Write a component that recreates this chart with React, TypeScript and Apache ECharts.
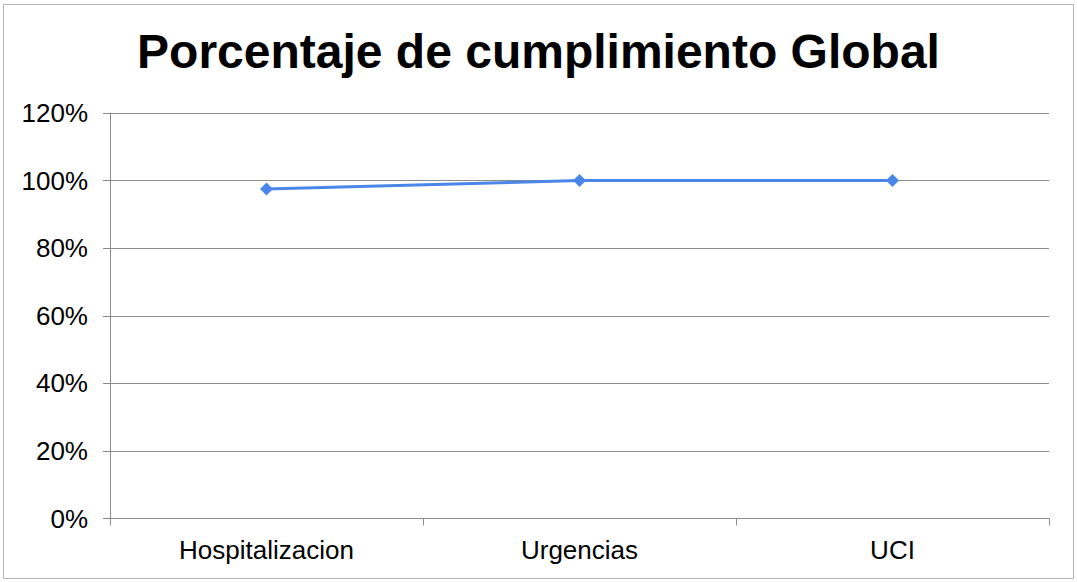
import React, { useEffect, useRef } from "react";
import * as echarts from "echarts";

const categories = ["Hospitalizacion", "Urgencias", "UCI"];
const values = [0.975, 1.0, 1.0];
const titleText = "Porcentaje de cumplimiento Global";

export default function App() {
  const ref = useRef<HTMLDivElement>(null);
  useEffect(() => {
    if (!ref.current) return;
    const chart = echarts.init(ref.current, null, { renderer: "svg" });
    chart.setOption({
      animation: false,
      backgroundColor: "#ffffff",
      title: {
        text: titleText,
        left: "center",
        top: 22,
        textStyle: {
          fontFamily: "Liberation Sans, Arial, sans-serif",
          fontWeight: "bold",
          fontSize: 48,
          color: "#000000",
        },
      },
      graphic: [
        {
          type: "rect",
          shape: { x: 3.5, y: 4.5, width: 1070, height: 574 },
          style: { fill: "none", stroke: "#b4b4b4", lineWidth: 1 },
          silent: true,
        },
      ],
      grid: { left: 110, right: 28, top: 113, bottom: 63.5, containLabel: false },
      xAxis: {
        type: "category",
        data: categories,
        boundaryGap: true,
        axisLine: { lineStyle: { color: "#8c8c8c", width: 1 } },
        axisTick: { show: true, length: 7, lineStyle: { color: "#8c8c8c" } },
        axisLabel: {
          fontFamily: "Liberation Sans, Arial, sans-serif",
          fontSize: 26,
          color: "#000000",
          margin: 18,
        },
      },
      yAxis: {
        type: "value",
        min: 0,
        max: 1.2,
        interval: 0.2,
        axisLine: { show: true, lineStyle: { color: "#8c8c8c", width: 1 } },
        axisTick: { show: true, length: 7, lineStyle: { color: "#8c8c8c" } },
        splitLine: { show: true, lineStyle: { color: "#8c8c8c", width: 1 } },
        axisLabel: {
          fontFamily: "Liberation Sans, Arial, sans-serif",
          fontSize: 26,
          color: "#000000",
          margin: 22,
          formatter: (v: number) => `${Math.round(v * 100)}%`,
        },
      },
      series: [
        {
          type: "line",
          data: values,
          symbol: "diamond",
          symbolSize: 13,
          itemStyle: { color: "#4a86e8" },
          lineStyle: { color: "#4a86e8", width: 3 },
        },
      ],
    });
    return () => chart.dispose();
  }, []);
  return (
    <div
      ref={ref}
      style={{ position: "fixed", left: 0, top: 0, width: 1077, height: 582 }}
    />
  );
}
